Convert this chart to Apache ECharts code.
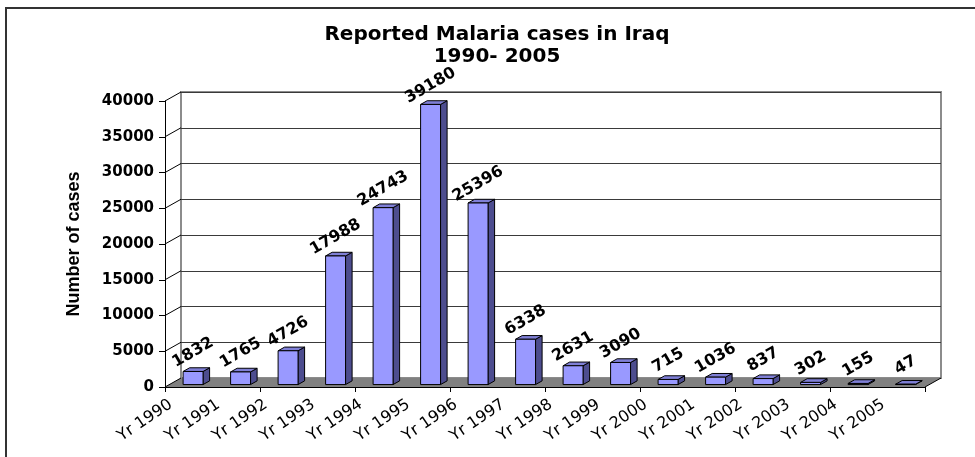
<!DOCTYPE html>
<html>
<head>
<meta charset="utf-8">
<title>Reported Malaria cases in Iraq 1990- 2005</title>
<script src="https://cdn.jsdelivr.net/npm/echarts@6/dist/echarts.min.js"></script>
<style>
  html, body { margin: 0; padding: 0; background: #fff; }
  #chart { width: 975px; height: 457px; }
</style>
</head>
<body>
<div id="chart"></div>
<script>
// ---- data ----
const years = ['Yr 1990', 'Yr 1991', 'Yr 1992', 'Yr 1993', 'Yr 1994', 'Yr 1995', 'Yr 1996', 'Yr 1997',
               'Yr 1998', 'Yr 1999', 'Yr 2000', 'Yr 2001', 'Yr 2002', 'Yr 2003', 'Yr 2004', 'Yr 2005'];
const cases = [1832, 1765, 4726, 17988, 24743, 39180, 25396, 6338,
               2631, 3090, 715, 1036, 837, 302, 155, 47];
const yTicks = [0, 5000, 10000, 15000, 20000, 25000, 30000, 35000, 40000];
const titleText = 'Reported Malaria cases in Iraq\n1990- 2005';
const yAxisName = 'Number of cases';

// ---- 3D look: offset of the back wall relative to the front plane ----
const DX = 16, DY = -9;
const BAR_FRONT = 0.27, BAR_BACK = 0.68, BAR_W = 0.42;
const FRONT = { left: 165, right: 50, top: 101, bottom: 70 };
const BACK = { left: FRONT.left + DX, right: FRONT.right - DX, top: FRONT.top + DY, bottom: FRONT.bottom - DY };
const LABEL_SHIFT = -18;

const boldFont = 'DejaVu Sans';

const chart = echarts.init(document.getElementById('chart'), null, { renderer: 'canvas' });

const option = {
  animation: false,
  backgroundColor: '#ffffff',
  title: {
    text: titleText,
    left: 497,
    top: 24,
    textAlign: 'center',
    padding: 0,
    textStyle: { fontFamily: boldFont, fontWeight: 'bold', fontSize: 20, lineHeight: 22, color: '#000' }
  },
  graphic: [{
    type: 'rect',
    shape: { x: 6, y: 8, width: 1200, height: 800 },
    style: { fill: 'none', stroke: '#333', lineWidth: 2 },
    silent: true,
    z: 0
  }],
  grid: [
    Object.assign({ show: false }, FRONT),
    Object.assign({ show: true, backgroundColor: '#fff', borderColor: '#8c8c8c', borderWidth: 2 }, BACK),
    { left: FRONT.left + LABEL_SHIFT, right: FRONT.right - LABEL_SHIFT, top: FRONT.top, bottom: FRONT.bottom, show: false }
  ],
  xAxis: [
    {
      gridIndex: 0, type: 'category', data: years, boundaryGap: true, z: 6,
      axisLine: { show: true, lineStyle: { color: '#000', width: 1 } },
      axisTick: { show: true, length: 5, lineStyle: { color: '#000' } },
      axisLabel: { show: false }
    },
    {
      gridIndex: 1, type: 'category', data: years, show: false
    },
    {
      gridIndex: 2, type: 'category', data: years, boundaryGap: true,
      axisLine: { show: false }, axisTick: { show: false },
      axisLabel: { show: true, interval: 0, rotate: 34, margin: 16,
                   fontFamily: 'DejaVu Sans', fontSize: 16, color: '#000' }
    }
  ],
  yAxis: [
    {
      gridIndex: 0, type: 'value', min: 0, max: 40000, interval: 5000, z: 6,
      name: yAxisName, nameLocation: 'middle', nameGap: 82, nameRotate: 90,
      nameTextStyle: { fontFamily: 'Liberation Sans', fontWeight: 'bold', fontSize: 18, color: '#000' },
      axisLine: { show: true, lineStyle: { color: '#000', width: 1 } },
      axisTick: { show: true, length: 6, lineStyle: { color: '#000' } },
      axisLabel: { margin: 11, fontFamily: boldFont, fontWeight: 'bold', fontSize: 15, color: '#000',
                   formatter: function (v) { return String(v); } },
      splitLine: { show: false }
    },
    {
      gridIndex: 1, type: 'value', min: 0, max: 40000, interval: 5000,
      axisLine: { show: false }, axisTick: { show: false }, axisLabel: { show: false },
      splitLine: { show: true, lineStyle: { color: '#3a3a3a', width: 1 } }
    },
    {
      gridIndex: 2, type: 'value', min: 0, max: 40000, show: false
    }
  ],
  series: [
    // floor of the plot box
    {
      type: 'custom', xAxisIndex: 0, yAxisIndex: 0, z: 3, silent: true,
      data: [[0, 0]],
      renderItem: function (params) {
        const cs = params.coordSys;
        const yb = cs.y + cs.height;
        return {
          type: 'group',
          children: [
            { type: 'polygon',
              shape: { points: [[cs.x, yb], [cs.x + cs.width, yb], [cs.x + cs.width + DX, yb + DY], [cs.x + DX, yb + DY]] },
              style: { fill: '#808080', stroke: null } },
            { type: 'line',
              shape: { x1: cs.x + cs.width, y1: yb, x2: cs.x + cs.width + DX, y2: yb + DY },
              style: { stroke: '#000', lineWidth: 1 } }
          ]
        };
      }
    },
    // left side wall: tick lines running back to the wall
    {
      type: 'custom', xAxisIndex: 0, yAxisIndex: 0, z: 4, silent: true,
      data: yTicks.map(function (t) { return [0, t]; }),
      renderItem: function (params, api) {
        const cs = params.coordSys;
        const y = api.coord([0, api.value(1)])[1];
        return {
          type: 'line',
          shape: { x1: cs.x, y1: y, x2: cs.x + DX, y2: y + DY },
          style: { stroke: '#000', lineWidth: 1 }
        };
      }
    },
    // 3D columns with rotated value labels
    {
      type: 'custom', name: 'Reported cases', xAxisIndex: 0, yAxisIndex: 0, z: 8,
      data: cases.map(function (v, i) { return [i, v]; }),
      renderItem: function (params, api) {
        const i = api.value(0), v = api.value(1);
        const top = api.coord([i, v]);
        const base = api.coord([i, 0]);
        const band = api.size([1, 0])[0];
        const w = band * BAR_W;
        const fx = top[0] + DX * BAR_FRONT - w / 2;
        const fy = base[1] + DY * BAR_FRONT;
        const ty = top[1] + DY * BAR_FRONT;
        const ddx = DX * (BAR_BACK - BAR_FRONT), ddy = DY * (BAR_BACK - BAR_FRONT);
        const edge = { stroke: '#000', lineWidth: 1 };
        return {
          type: 'group',
          children: [
            { type: 'polygon',
              shape: { points: [[fx + w, fy], [fx + w + ddx, fy + ddy], [fx + w + ddx, ty + ddy], [fx + w, ty]] },
              style: Object.assign({ fill: '#4d4d8f' }, edge) },
            { type: 'polygon',
              shape: { points: [[fx, ty], [fx + w, ty], [fx + w + ddx, ty + ddy], [fx + ddx, ty + ddy]] },
              style: Object.assign({ fill: '#7f7fd6' }, edge) },
            { type: 'rect',
              shape: { x: fx, y: ty, width: w, height: Math.max(fy - ty, 0) },
              style: Object.assign({ fill: '#9999ff' }, edge) },
            { type: 'text',
              x: fx + w / 2, y: ty - 19,
              rotation: 30 * Math.PI / 180,
              style: { text: String(v), fill: '#000', font: 'bold 16px "DejaVu Sans"',
                       align: 'center', verticalAlign: 'middle' } }
          ]
        };
      }
    }
  ]
};

chart.setOption(option);
</script>
</body>
</html>
